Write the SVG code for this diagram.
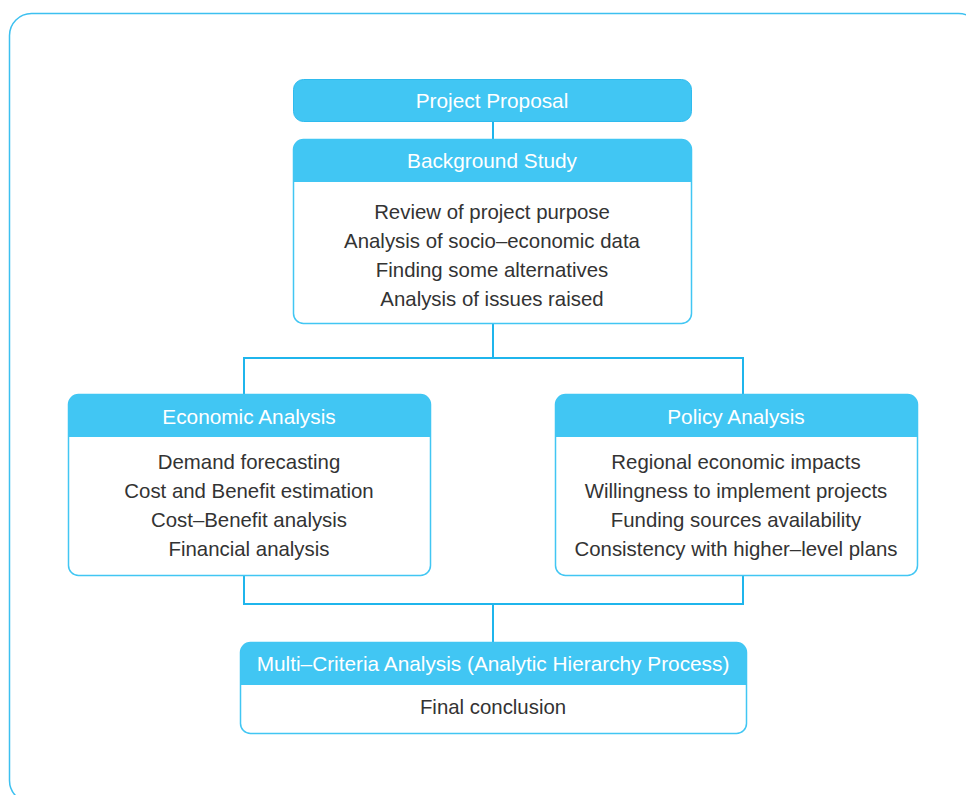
<svg xmlns="http://www.w3.org/2000/svg" width="966" height="795" viewBox="0 0 966 795">
<style>
.frame{fill:none;stroke:#3cc0f0;stroke-width:1.5}
.box{fill:#fff;stroke:#41c6f3;stroke-width:1.5}
.head{fill:#41c6f3}
.hl{fill:#fff;font-family:"Liberation Sans",Arial,sans-serif;font-size:20.8px;text-anchor:middle}
.bt{fill:#333;font-family:"Liberation Sans",Arial,sans-serif;font-size:20.4px;text-anchor:middle}
.conn{fill:none;stroke:#1fb5ec;stroke-width:2}
</style>
<rect class="frame" x="9.5" y="13.5" width="971" height="789" rx="22"/>
<g id="connectors">
<line class="conn" x1="493" y1="122" x2="493" y2="139"/>
<path class="conn" d="M493 324V358M244 394V358H743V394"/>
<path class="conn" d="M244 576V604H743V576M493 604V642"/>
</g>
<g id="project-proposal">
<rect x="293.5" y="79.5" width="398" height="42" rx="10" fill="#41c6f3" stroke="#2fbbee" stroke-width="1"/>
<text class="hl" x="492" y="107.5">Project Proposal</text>
</g>
<g id="background-study">
<rect class="box" x="293.5" y="139.5" width="398" height="184" rx="10"/>
<path class="head" d="M293.5 182V149.5a10 10 0 0 1 10-10h378a10 10 0 0 1 10 10V182Z"/>
<text class="hl" x="492" y="167.5">Background Study</text>
<text class="bt" x="492" y="218.5">Review of project purpose</text>
<text class="bt" x="492" y="247.5">Analysis of socio–economic data</text>
<text class="bt" x="492" y="276.5">Finding some alternatives</text>
<text class="bt" x="492" y="305.5">Analysis of issues raised</text>
</g>
<g id="economic-analysis">
<rect class="box" x="68.5" y="394.5" width="362" height="181" rx="10"/>
<path class="head" d="M68.5 437V404.5a10 10 0 0 1 10-10h342a10 10 0 0 1 10 10V437Z"/>
<text class="hl" x="249" y="423.5">Economic Analysis</text>
<text class="bt" x="249" y="468.5">Demand forecasting</text>
<text class="bt" x="249" y="497.5">Cost and Benefit estimation</text>
<text class="bt" x="249" y="526.5">Cost–Benefit analysis</text>
<text class="bt" x="249" y="555.5">Financial analysis</text>
</g>
<g id="policy-analysis">
<rect class="box" x="555.5" y="394.5" width="362" height="181" rx="10"/>
<path class="head" d="M555.5 437V404.5a10 10 0 0 1 10-10h342a10 10 0 0 1 10 10V437Z"/>
<text class="hl" x="736" y="423.5">Policy Analysis</text>
<text class="bt" x="736" y="468.5">Regional economic impacts</text>
<text class="bt" x="736" y="497.5">Willingness to implement projects</text>
<text class="bt" x="736" y="526.5">Funding sources availability</text>
<text class="bt" x="736" y="555.5">Consistency with higher–level plans</text>
</g>
<g id="multi-criteria">
<rect class="box" x="240.5" y="642.5" width="506" height="91" rx="10"/>
<path class="head" d="M240.5 685V652.5a10 10 0 0 1 10-10h486a10 10 0 0 1 10 10V685Z"/>
<text class="hl" x="493" y="670.5">Multi–Criteria Analysis (Analytic Hierarchy Process)</text>
<text class="bt" x="493" y="713.5">Final conclusion</text>
</g>
</svg>
